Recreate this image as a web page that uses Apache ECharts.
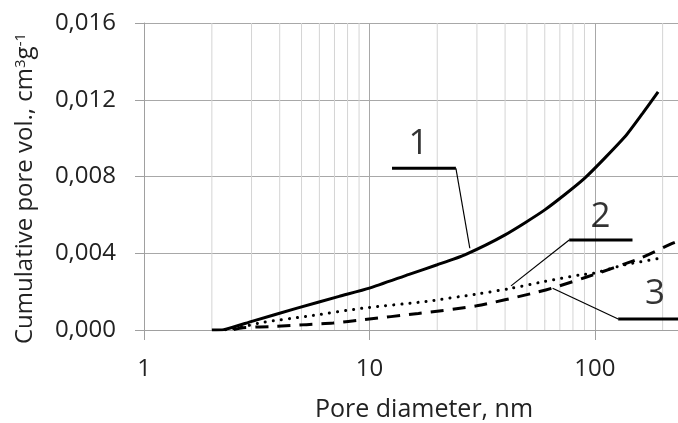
<!DOCTYPE html>
<html>
<head>
<meta charset="utf-8">
<script src="https://cdn.jsdelivr.net/npm/echarts@6/dist/echarts.min.js"></script>
<style>
html,body{margin:0;padding:0;background:#fff;overflow:hidden;}
#chart{width:678px;height:423px;}
</style>
</head>
<body>
<div id="chart"></div>
<script>
// ---- data ----
const yTicks = [0, 0.004, 0.008, 0.012, 0.016];
const xMajor = [1, 10, 100];
const xMinor = [2,3,4,5,6,7,8,9,20,30,40,50,60,70,80,90,200];

const d1 = [2, 2.26, 3.01, 4.78, 7.34, 10, 15, 20, 26.5, 40, 60, 90, 136, 163, 191];
const v1 = [0, 0.00002, 0.00045, 0.00114, 0.00175, 0.00218, 0.0029, 0.0034, 0.00392, 0.00496, 0.00626, 0.0079, 0.01007, 0.01129, 0.01241];

const d2 = [2.3, 2.7, 3.37, 5.26, 9.4, 17.9, 30.5, 42, 60, 86, 99, 136, 195];
const v2 = [0.00001, 0.00015, 0.0004, 0.00071, 0.00114, 0.00149, 0.00189, 0.00216, 0.00253, 0.00287, 0.00296, 0.0034, 0.00374];

const d3 = [2.5, 2.75, 3.87, 5.26, 6.9, 9.4, 16.5, 29.9, 53.3, 64.5, 92, 159, 222, 240];
const v3 = [0.00002, 0.00012, 0.00019, 0.00028, 0.00036, 0.00054, 0.00086, 0.00126, 0.00192, 0.00218, 0.00276, 0.00374, 0.00453, 0.00468];

// annotation labels and leader lines (data coordinates)
const labelText = ['1', '2', '3'];
const labelX = [16.5, 106, 185];
const labelY = [0.0097, 0.00587, 0.00185];
const barX1 = [12.6, 77, 127];
const barX2 = [24.2, 147, 234];
const barY  = [0.00843, 0.00469, 0.00057];
const leadX = [27.9, 42.5, 65];
const leadY = [0.00426, 0.0023, 0.00218];

const X_MIN = 1, X_MAX = 234, Y_MIN = 0, Y_MAX = 0.016;

const zip = (a, b) => a.map((x, i) => [x, b[i]]);

// minor vertical gridlines as one broken line series
const minorData = [];
xMinor.forEach(v => { minorData.push([v, Y_MIN], [v, Y_MAX], '-'); });

const FONT = 'Open Sans';
const series = [
  {
    type: 'line', data: minorData, symbol: 'none', silent: true, z: 1,
    connectNulls: false, lineStyle: { color: '#d4d4d4', width: 1 }, animation: false
  },
  {
    name: '1', type: 'line', data: zip(d1, v1), symbol: 'none', smooth: 0.2, z: 5,
    lineStyle: { color: '#000', width: 3 }
  },
  {
    name: '2', type: 'line', data: zip(d2, v2), symbol: 'none', smooth: 0.25, z: 5,
    lineStyle: { color: '#000', width: 3, type: [0.1, 8], cap: 'round' }
  },
  {
    name: '3', type: 'line', data: zip(d3, v3), symbol: 'none', smooth: 0.25, z: 5,
    lineStyle: { color: '#000', width: 3, type: [13, 9] }
  }
];
labelText.forEach((t, i) => {
  series.push({
    type: 'line', symbol: 'none', z: 6, silent: true,
    data: [[barX1[i], barY[i]], [barX2[i], barY[i]]],
    lineStyle: { color: '#000', width: 3 }
  });
  const anchorX = i === 0 ? barX2[i] : barX1[i];
  series.push({
    type: 'line', symbol: 'none', z: 6, silent: true,
    data: [[anchorX, barY[i]], [leadX[i], leadY[i]]],
    lineStyle: { color: '#000', width: 1.2 }
  });
});
series.push({
  type: 'scatter', symbolSize: 1, z: 7, silent: true,
  itemStyle: { color: 'rgba(0,0,0,0)' },
  data: labelX.map((x, i) => ({ value: [x, labelY[i]], name: labelText[i] })),
  label: {
    show: true, position: 'inside', formatter: p => p.name,
    fontFamily: FONT, fontSize: 35, color: '#000'
  }
});

const chart = echarts.init(document.getElementById('chart'), null, { renderer: 'canvas' });
chart.setOption({
  animation: false,
  backgroundColor: '#fff',
  grid: { left: 144, right: 0, top: 23, bottom: 93, containLabel: false, outerBoundsMode: 'none' },
  xAxis: {
    type: 'log', logBase: 10, min: X_MIN, max: X_MAX,
    name: 'Pore diameter, nm', nameLocation: 'middle', nameGap: 67,
    nameTextStyle: { fontFamily: FONT, fontSize: 25, color: '#222', padding: [0, 0, 0, 26] },
    axisLine: { show: true, lineStyle: { color: '#a0a0a0', width: 1 } },
    axisTick: { show: true, length: 10, lineStyle: { color: '#a0a0a0' } },
    axisLabel: {
      show: true, margin: 27, showMaxLabel: false, fontFamily: FONT, fontSize: 24, color: '#222',
      formatter: v => (xMajor.indexOf(Math.round(v)) >= 0 ? String(Math.round(v)) : '')
    },
    splitLine: { show: true, showMaxLine: false, lineStyle: { color: '#a8a8a8', width: 1 } }
  },
  yAxis: {
    type: 'value', min: Y_MIN, max: Y_MAX, interval: 0.004,
    name: 'Cumulative pore vol., cm{sup|3}g{sup|-1}',
    nameLocation: 'middle', nameGap: 106, nameRotate: 90,
    nameTextStyle: {
      fontFamily: FONT, fontSize: 24, color: '#222', padding: [0, 0, 0, -24],
      rich: { sup: { fontFamily: FONT, fontSize: 15, color: '#222', verticalAlign: 'top', padding: [0, 0, 10, 0] } }
    },
    axisLine: { show: true, lineStyle: { color: '#a0a0a0', width: 1 } },
    axisTick: { show: true, length: 9, lineStyle: { color: '#a0a0a0' } },
    axisLabel: {
      margin: 28, fontFamily: FONT, fontSize: 24, color: '#222',
      formatter: v => v.toFixed(3).replace('.', ',')
    },
    splitLine: { show: true, lineStyle: { color: '#a8a8a8', width: 1 } }
  },
  series: series
});
</script>
</body>
</html>
